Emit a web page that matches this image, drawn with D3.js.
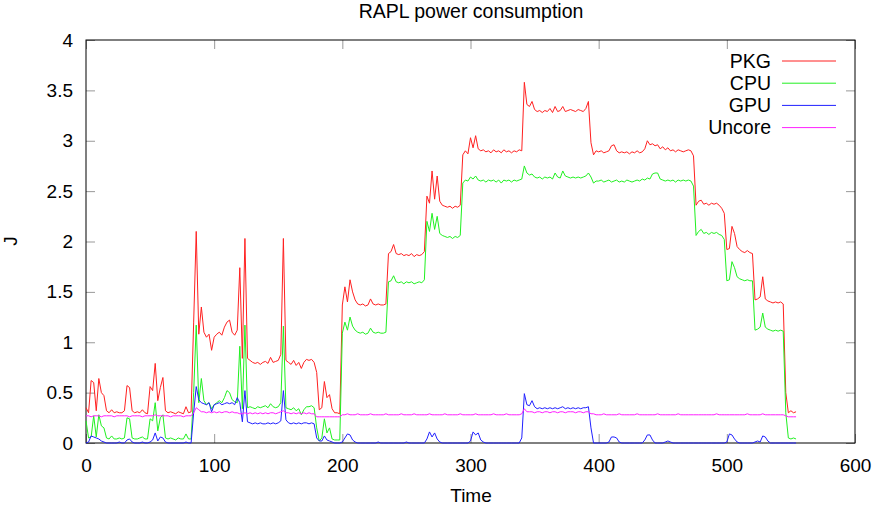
<!DOCTYPE html>
<html>
<head>
<meta charset="utf-8">
<script src="https://cdn.jsdelivr.net/npm/d3@7"></script>
<style>
  body { margin: 0; background: #fff; }
  svg { display: block; font-family: "Liberation Sans", Arial, sans-serif; }
  .tick line { stroke: #999; }
  .tick text { font-size: 19px; fill: #000; }
</style>
</head>
<body>
<div class="chart"></div>
<script>
// samples every 2 time units, t = 0 .. 554
const step = 2;

const pkg = [
  0.35, 0.30, 0.62, 0.60, 0.32, 0.64, 0.50, 0.47, 0.32, 0.30,
  0.33, 0.30, 0.31, 0.30, 0.30, 0.32, 0.57, 0.55, 0.32, 0.30,
  0.31, 0.30, 0.33, 0.30, 0.29, 0.56, 0.52, 0.79, 0.42, 0.55,
  0.65, 0.32, 0.30, 0.31, 0.30, 0.29, 0.31, 0.30, 0.29, 0.36,
  0.30, 0.31, 1.20, 2.10, 1.08, 1.35, 1.10, 1.05, 1.08, 0.92,
  1.05, 1.08, 1.10, 1.07, 1.15, 1.20, 1.22, 1.10, 1.07, 1.12,
  1.74, 0.84, 2.03, 0.84, 0.82, 0.80, 0.79, 0.80, 0.78, 0.80,
  0.81, 0.79, 0.85, 0.80, 0.81, 0.82, 0.88, 2.03, 0.82, 0.80,
  0.78, 0.82, 0.77, 0.80, 0.74, 0.80, 0.83, 0.82, 0.83, 0.80,
  0.70, 0.33, 0.35, 0.61, 0.45, 0.48, 0.34, 0.30, 0.30, 0.29,
  1.37, 1.55, 1.40, 1.62, 1.50, 1.42, 1.38, 1.37, 1.38, 1.36,
  1.37, 1.43, 1.38, 1.37, 1.38, 1.37, 1.37, 1.38, 1.88, 1.90,
  1.97, 1.88, 1.87, 1.88, 1.86, 1.87, 1.86, 1.88, 1.85, 1.87,
  1.86, 1.87, 1.90, 2.45, 2.38, 2.70, 2.42, 2.65, 2.40, 2.36,
  2.35, 2.34, 2.35, 2.33, 2.35, 2.34, 2.36, 2.86, 2.90, 2.87,
  3.03, 2.93, 3.05, 2.92, 2.90, 2.91, 2.89, 2.90, 2.88, 2.91,
  2.89, 2.90, 2.88, 2.91, 2.89, 2.90, 2.88, 2.90, 2.89, 2.91,
  2.90, 3.58, 3.36, 3.34, 3.39, 3.31, 3.29, 3.30, 3.28, 3.30,
  3.29, 3.32, 3.28, 3.34, 3.29, 3.30, 3.34, 3.29, 3.30, 3.31,
  3.30, 3.29, 3.31, 3.30, 3.29, 3.32, 3.39, 2.98, 2.86, 2.90,
  2.89, 2.90, 2.88, 2.89, 2.90, 2.95, 2.96, 2.90, 2.88, 2.89,
  2.88, 2.89, 2.87, 2.89, 2.88, 2.90, 2.88, 2.89, 2.92, 3.00,
  2.96, 2.97, 2.95, 2.96, 2.92, 2.94, 2.91, 2.93, 2.90, 2.91,
  2.89, 2.91, 2.90, 2.89, 2.90, 2.91, 2.90, 2.85, 2.36, 2.40,
  2.41, 2.37, 2.38, 2.36, 2.38, 2.37, 2.38, 2.36, 2.33, 2.28,
  1.92, 1.93, 2.15, 2.08, 1.95, 1.92, 1.90, 1.89, 1.91, 1.89,
  1.88, 1.42, 1.43, 1.45, 1.65, 1.43, 1.41, 1.40, 1.39, 1.40,
  1.39, 1.40, 1.38, 0.50, 0.30, 0.32, 0.30, 0.31
];

const cpu = [
  0.22, 0.05, 0.06, 0.27, 0.06, 0.28, 0.17, 0.15, 0.05, 0.04,
  0.07, 0.04, 0.04, 0.05, 0.04, 0.05, 0.25, 0.24, 0.05, 0.04,
  0.04, 0.05, 0.06, 0.04, 0.04, 0.24, 0.22, 0.40, 0.12, 0.25,
  0.28, 0.05, 0.04, 0.05, 0.04, 0.03, 0.05, 0.04, 0.04, 0.09,
  0.04, 0.04, 0.50, 1.17, 0.40, 0.64, 0.42, 0.38, 0.40, 0.34,
  0.38, 0.40, 0.42, 0.40, 0.45, 0.52, 0.50, 0.43, 0.41, 0.40,
  0.96, 0.34, 1.17, 0.35, 0.36, 0.35, 0.34, 0.36, 0.35, 0.36,
  0.37, 0.35, 0.39, 0.36, 0.35, 0.36, 0.40, 1.16, 0.35, 0.34,
  0.33, 0.35, 0.32, 0.34, 0.28, 0.33, 0.36, 0.36, 0.37, 0.35,
  0.15, 0.02, 0.05, 0.24, 0.10, 0.15, 0.04, 0.03, 0.03, 0.03,
  1.09, 1.20, 1.12, 1.25, 1.16, 1.12, 1.10, 1.09, 1.10, 1.08,
  1.09, 1.14, 1.10, 1.09, 1.10, 1.09, 1.09, 1.10, 1.60, 1.61,
  1.66, 1.60, 1.59, 1.60, 1.58, 1.60, 1.59, 1.60, 1.58, 1.59,
  1.60, 1.59, 1.62, 2.20, 2.10, 2.28, 2.12, 2.25, 2.08, 2.06,
  2.05, 2.04, 2.05, 2.03, 2.05, 2.04, 2.06, 2.58, 2.61, 2.60,
  2.64, 2.62, 2.65, 2.61, 2.60, 2.61, 2.59, 2.61, 2.60, 2.61,
  2.59, 2.61, 2.58, 2.61, 2.60, 2.61, 2.59, 2.61, 2.60, 2.61,
  2.62, 2.75, 2.68, 2.66, 2.67, 2.64, 2.63, 2.64, 2.62, 2.64,
  2.63, 2.64, 2.62, 2.68, 2.64, 2.63, 2.70, 2.65, 2.64, 2.63,
  2.64, 2.63, 2.64, 2.63, 2.64, 2.65, 2.68, 2.64, 2.58, 2.60,
  2.60, 2.61, 2.59, 2.60, 2.61, 2.59, 2.60, 2.61, 2.59, 2.60,
  2.59, 2.61, 2.60, 2.59, 2.60, 2.61, 2.60, 2.62, 2.61, 2.63,
  2.62, 2.67, 2.68, 2.68, 2.62, 2.61, 2.60, 2.61, 2.60, 2.61,
  2.59, 2.61, 2.60, 2.61, 2.60, 2.61, 2.60, 2.55, 2.06, 2.10,
  2.12, 2.08, 2.09, 2.07, 2.09, 2.08, 2.09, 2.07, 2.06, 2.02,
  1.61, 1.62, 1.80, 1.74, 1.65, 1.63, 1.62, 1.61, 1.62, 1.61,
  1.61, 1.12, 1.13, 1.15, 1.29, 1.15, 1.13, 1.12, 1.11, 1.12,
  1.11, 1.12, 1.11, 0.30, 0.05, 0.04, 0.05, 0.04
];

const gpu = [
  0.00, 0.01, 0.07, 0.06, 0.05, 0.04, 0.02, 0.01, 0.00, 0.00,
  0.00, 0.00, 0.00, 0.01, 0.00, 0.00, 0.03, 0.04, 0.01, 0.00,
  0.00, 0.00, 0.01, 0.00, 0.00, 0.01, 0.03, 0.10, 0.02, 0.06,
  0.05, 0.01, 0.00, 0.00, 0.00, 0.00, 0.00, 0.00, 0.00, 0.01,
  0.00, 0.00, 0.30, 0.56, 0.43, 0.40, 0.39, 0.38, 0.40, 0.31,
  0.38, 0.39, 0.40, 0.38, 0.39, 0.40, 0.39, 0.40, 0.38, 0.45,
  0.40, 0.21, 0.52, 0.21, 0.20, 0.19, 0.20, 0.19, 0.20, 0.19,
  0.19, 0.20, 0.19, 0.20, 0.19, 0.20, 0.22, 0.52, 0.23, 0.20,
  0.19, 0.20, 0.19, 0.20, 0.19, 0.20, 0.20, 0.19, 0.20, 0.19,
  0.05, 0.02, 0.02, 0.07, 0.03, 0.02, 0.01, 0.00, 0.00, 0.00,
  0.01, 0.05, 0.09, 0.08, 0.03, 0.01, 0.00, 0.00, 0.00, 0.00,
  0.00, 0.00, 0.00, 0.00, 0.01, 0.00, 0.00, 0.00, 0.00, 0.00,
  0.00, 0.00, 0.00, 0.00, 0.00, 0.01, 0.00, 0.00, 0.00, 0.00,
  0.00, 0.00, 0.00, 0.04, 0.11, 0.06, 0.10, 0.04, 0.01, 0.00,
  0.00, 0.00, 0.00, 0.00, 0.00, 0.00, 0.00, 0.00, 0.00, 0.00,
  0.02, 0.11, 0.08, 0.10, 0.03, 0.01, 0.00, 0.00, 0.00, 0.00,
  0.00, 0.00, 0.00, 0.00, 0.00, 0.00, 0.00, 0.00, 0.00, 0.00,
  0.05, 0.49, 0.38, 0.37, 0.42, 0.36, 0.34, 0.35, 0.34, 0.35,
  0.34, 0.35, 0.34, 0.35, 0.34, 0.35, 0.36, 0.34, 0.35, 0.34,
  0.35, 0.34, 0.35, 0.34, 0.35, 0.35, 0.36, 0.15, 0.00, 0.00,
  0.00, 0.00, 0.00, 0.00, 0.01, 0.06, 0.06, 0.05, 0.01, 0.00,
  0.00, 0.00, 0.00, 0.00, 0.00, 0.00, 0.00, 0.00, 0.03, 0.08,
  0.08, 0.03, 0.00, 0.00, 0.00, 0.00, 0.01, 0.02, 0.01, 0.00,
  0.00, 0.00, 0.00, 0.00, 0.00, 0.00, 0.00, 0.00, 0.00, 0.00,
  0.00, 0.00, 0.00, 0.00, 0.00, 0.00, 0.00, 0.00, 0.00, 0.00,
  0.01, 0.09, 0.08, 0.04, 0.01, 0.00, 0.00, 0.00, 0.00, 0.00,
  0.00, 0.01, 0.02, 0.01, 0.07, 0.06, 0.02, 0.00, 0.00, 0.00,
  0.00, 0.00, 0.00, 0.00, 0.00, 0.00, 0.00, 0.00
];

const uncore = [
  0.27, 0.27, 0.26, 0.27, 0.27, 0.27, 0.26, 0.27, 0.27, 0.27,
  0.27, 0.26, 0.27, 0.27, 0.27, 0.27, 0.27, 0.26, 0.27, 0.27,
  0.27, 0.27, 0.26, 0.27, 0.27, 0.27, 0.27, 0.28, 0.27, 0.27,
  0.27, 0.27, 0.27, 0.26, 0.27, 0.27, 0.27, 0.27, 0.26, 0.27,
  0.27, 0.27, 0.30, 0.35, 0.33, 0.31, 0.31, 0.30, 0.31, 0.30,
  0.31, 0.30, 0.31, 0.30, 0.31, 0.31, 0.30, 0.31, 0.30, 0.30,
  0.29, 0.29, 0.30, 0.29, 0.30, 0.29, 0.30, 0.29, 0.30, 0.29,
  0.30, 0.29, 0.30, 0.30, 0.29, 0.30, 0.31, 0.32, 0.30, 0.30,
  0.29, 0.30, 0.29, 0.30, 0.29, 0.30, 0.29, 0.30, 0.29, 0.29,
  0.26, 0.26, 0.26, 0.26, 0.26, 0.26, 0.26, 0.26, 0.26, 0.26,
  0.28, 0.28, 0.29, 0.28, 0.28, 0.28, 0.29, 0.28, 0.28, 0.28,
  0.28, 0.29, 0.28, 0.28, 0.28, 0.28, 0.28, 0.29, 0.28, 0.28,
  0.28, 0.28, 0.28, 0.29, 0.28, 0.28, 0.28, 0.28, 0.29, 0.28,
  0.28, 0.28, 0.28, 0.28, 0.29, 0.28, 0.28, 0.28, 0.28, 0.28,
  0.29, 0.28, 0.28, 0.28, 0.28, 0.28, 0.29, 0.28, 0.28, 0.28,
  0.28, 0.28, 0.29, 0.28, 0.28, 0.28, 0.28, 0.28, 0.28, 0.29,
  0.28, 0.28, 0.28, 0.28, 0.29, 0.28, 0.28, 0.28, 0.28, 0.28,
  0.29, 0.34, 0.31, 0.31, 0.31, 0.30, 0.31, 0.31, 0.30, 0.31,
  0.31, 0.30, 0.31, 0.31, 0.30, 0.31, 0.31, 0.30, 0.31, 0.31,
  0.31, 0.30, 0.31, 0.31, 0.30, 0.31, 0.31, 0.29, 0.29, 0.28,
  0.28, 0.28, 0.29, 0.28, 0.28, 0.28, 0.28, 0.28, 0.29, 0.28,
  0.28, 0.28, 0.28, 0.28, 0.28, 0.29, 0.28, 0.28, 0.28, 0.28,
  0.28, 0.28, 0.28, 0.29, 0.28, 0.28, 0.28, 0.28, 0.28, 0.28,
  0.28, 0.29, 0.28, 0.28, 0.28, 0.28, 0.28, 0.28, 0.28, 0.28,
  0.28, 0.28, 0.28, 0.28, 0.28, 0.28, 0.29, 0.28, 0.28, 0.28,
  0.28, 0.28, 0.28, 0.28, 0.28, 0.28, 0.28, 0.28, 0.29, 0.28,
  0.28, 0.28, 0.28, 0.28, 0.29, 0.28, 0.28, 0.28, 0.28, 0.28,
  0.28, 0.28, 0.28, 0.27, 0.26, 0.26, 0.26, 0.26
];

const seriesNames = ['PKG', 'CPU', 'GPU', 'Uncore'];
const seriesColors = ['#ff2020', '#20f020', '#2020ff', '#ff20ff'];
const xTicks = [0, 100, 200, 300, 400, 500, 600];
const yTicks = [0, 0.5, 1, 1.5, 2, 2.5, 3, 3.5, 4];

const width = 876;
const height = 506;
const margin = { top: 40, right: 21, bottom: 63, left: 86 };

const svg = d3.select('.chart')
  .append('svg')
  .attr('width', width)
  .attr('height', height);

const xScale = d3.scaleLinear()
  .domain([0, 600])
  .range([margin.left, width - margin.right]);

const yScale = d3.scaleLinear()
  .domain([0, 4])
  .range([height - margin.bottom, margin.top]);

// gnuplot-like inward ticks on all four sides
svg.append('g')
  .attr('transform', `translate(0,${height - margin.bottom})`)
  .call(d3.axisBottom(xScale).tickValues(xTicks).tickSizeInner(-9).tickSizeOuter(0).tickPadding(16))
  .call(g => g.select('.domain').remove());

svg.append('g')
  .attr('transform', `translate(0,${margin.top})`)
  .call(d3.axisTop(xScale).tickValues(xTicks).tickSizeInner(-9).tickSizeOuter(0).tickFormat(''))
  .call(g => g.select('.domain').remove());

svg.append('g')
  .attr('transform', `translate(${margin.left},0)`)
  .call(d3.axisLeft(yScale).tickValues(yTicks).tickSizeInner(-9).tickSizeOuter(0).tickPadding(13).tickFormat(d3.format('')))
  .call(g => g.select('.domain').remove());

svg.append('g')
  .attr('transform', `translate(${width - margin.right},0)`)
  .call(d3.axisRight(yScale).tickValues(yTicks).tickSizeInner(-9).tickSizeOuter(0).tickFormat(''))
  .call(g => g.select('.domain').remove());

svg.append('rect')
  .attr('x', margin.left)
  .attr('y', margin.top)
  .attr('width', width - margin.left - margin.right)
  .attr('height', height - margin.top - margin.bottom)
  .attr('fill', 'none')
  .attr('stroke', '#000')
  .attr('stroke-width', 1);

const line = d3.line()
  .x((d, i) => xScale(i * step))
  .y(d => yScale(d));

const seriesData = [pkg, cpu, gpu, uncore];

svg.selectAll('path.series')
  .data(seriesData)
  .enter()
  .append('path')
  .attr('class', 'series')
  .attr('d', d => line(d))
  .attr('fill', 'none')
  .attr('stroke', (d, i) => seriesColors[i])
  .attr('stroke-width', 1);

// legend
const legend = svg.append('g');
seriesNames.forEach((name, i) => {
  const ly = 61 + i * 22.2;
  legend.append('text')
    .attr('x', 771)
    .attr('y', ly)
    .attr('dy', '0.35em')
    .attr('text-anchor', 'end')
    .style('font-size', '19.5px')
    .text(name);
  legend.append('line')
    .attr('x1', 782)
    .attr('x2', 836)
    .attr('y1', ly)
    .attr('y2', ly)
    .attr('stroke', seriesColors[i])
    .attr('stroke-width', 1);
});

svg.append('text')
  .attr('x', 471)
  .attr('y', 18)
  .attr('text-anchor', 'middle')
  .style('font-size', '19.5px')
  .text('RAPL power consumption');

svg.append('text')
  .attr('x', 471)
  .attr('y', 502)
  .attr('text-anchor', 'middle')
  .style('font-size', '19px')
  .text('Time');

svg.append('text')
  .attr('transform', 'translate(17,241) rotate(-90)')
  .attr('text-anchor', 'middle')
  .style('font-size', '19px')
  .text('J');
</script>
</body>
</html>
